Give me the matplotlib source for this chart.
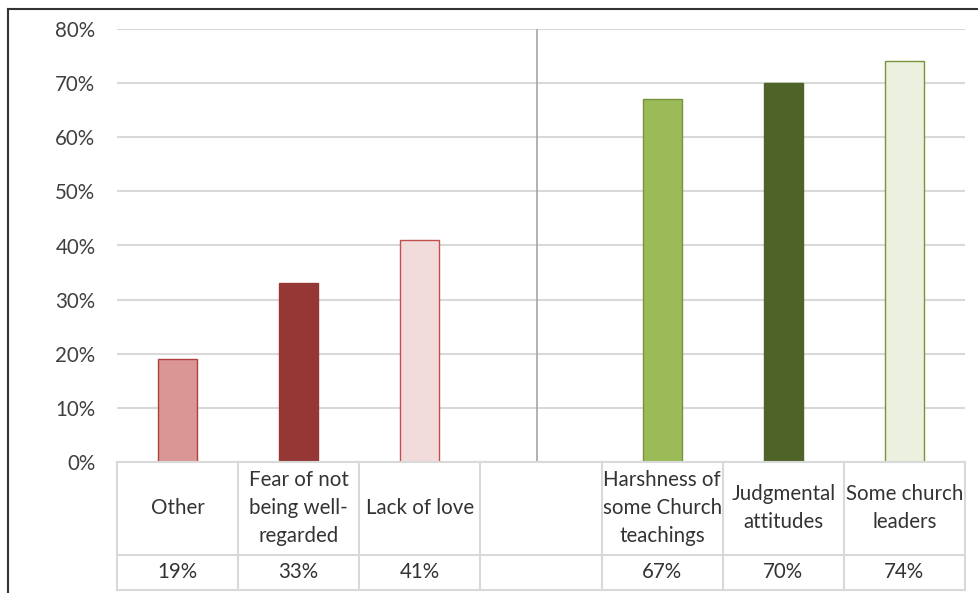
import matplotlib.pyplot as plt
from matplotlib.lines import Line2D

# categories (blank slot in the middle separates the two groups)
categories = ['Other', 'Fear of not\nbeing well-\nregarded', 'Lack of love', '',
              'Harshness of\nsome Church\nteachings', 'Judgmental\nattitudes', 'Some church\nleaders']
values = [19, 33, 41, None, 67, 70, 74]
value_labels = ['19%', '33%', '41%', '', '67%', '70%', '74%']
fill_colors = ['#d99694', '#953735', '#f2dcdb', None, '#9bbb59', '#4f6228', '#ebf1de']
edge_colors = ['#b0403d', '#953735', '#c0504d', None, '#77933c', '#4f6228', '#77933c']
y_ticks = [0, 10, 20, 30, 40, 50, 60, 70, 80]

plt.rcParams['font.family'] = ['Lato', 'DejaVu Sans']
text_color = '#333333'
grid_color = '#d9d9d9'
fs = 14.8

W, H = 979, 593
fig = plt.figure(figsize=(W / 100, H / 100), dpi=100)

left, right = 117, 965
top, zero = 29, 462
table_bottom = 590

ax = fig.add_axes([left / W, (H - zero) / H, (right - left) / W, (zero - top) / H])
n = len(categories)
ax.set_xlim(-0.5, n - 0.5)
ax.set_ylim(0, 80)
for i, (v, fc, ec) in enumerate(zip(values, fill_colors, edge_colors)):
    if v is None:
        continue
    ax.bar(i, v, width=0.32, color=fc, edgecolor=ec, linewidth=1.0, zorder=3)

ax.set_yticks(y_ticks)
ax.set_yticklabels([f'{t}%' for t in y_ticks], fontsize=fs, color='#404040')
ax.tick_params(axis='y', length=0, pad=15.5)
ax.set_xticks([])
ax.yaxis.grid(True, color=grid_color, linewidth=1.5, zorder=0)
for s in ax.spines.values():
    s.set_visible(False)

# divider between the two groups
ax.axvline(2.97, color='#a6a6a6', linewidth=1.2, zorder=2)

# data table under the plot
tax = fig.add_axes([left / W, (H - table_bottom) / H, (right - left) / W, (table_bottom - zero) / H])
tax.set_xlim(-0.5, n - 0.5)
tax.set_ylim(0, 1)
tax.axis('off')
split = (table_bottom - 555) / (table_bottom - zero)
kw = dict(color=grid_color, linewidth=1.5, clip_on=False)
for x in [i - 0.5 for i in range(n + 1)]:
    tax.plot([x, x], [0, 1], **kw)
for y in [0, split, 1]:
    tax.plot([-0.5, n - 0.5], [y, y], **kw)

for i, (lab, vl) in enumerate(zip(categories, value_labels)):
    tax.text(i, (1 + split) / 2, lab, ha='center', va='center', fontsize=fs,
             color=text_color, linespacing=1.5)
    tax.text(i, split / 2, vl, ha='center', va='center', fontsize=fs, color=text_color)

# outer frame (top and left edges)
fig.add_artist(Line2D([8 / W, 1], [1 - 9 / H, 1 - 9 / H], color='#333333', linewidth=1.5))
fig.add_artist(Line2D([8 / W, 8 / W], [0, 1 - 9 / H], color='#333333', linewidth=1.5))

fig.savefig('out.png', dpi=100, facecolor='white')
